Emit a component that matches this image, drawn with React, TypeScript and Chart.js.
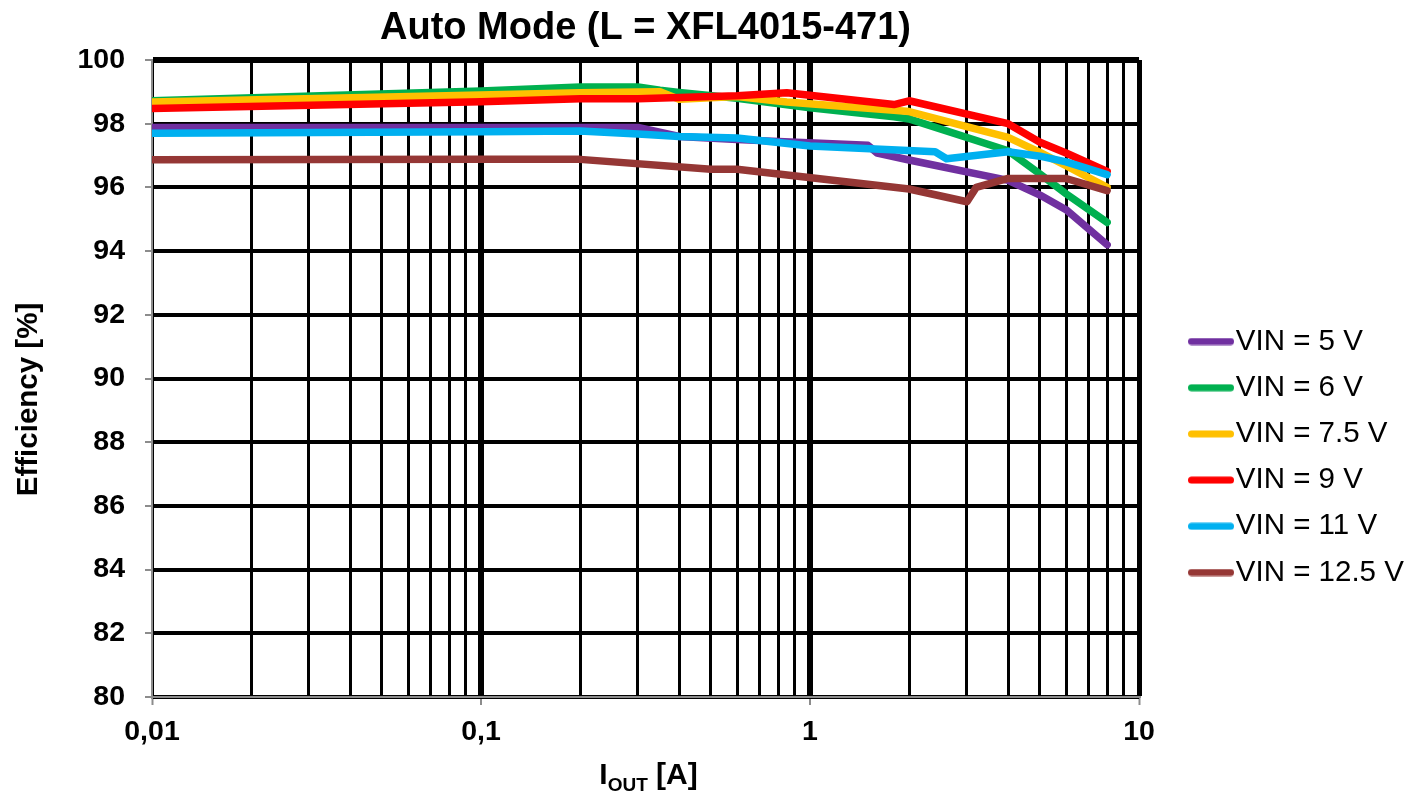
import React, { useEffect, useRef } from 'react';
import { Chart, registerables } from 'chart.js';

Chart.register(...registerables);

const chartTitle = 'Auto Mode (L = XFL4015-471)';
const yAxisTitle = 'Efficiency [%]';
const xAxisTitleMain = 'I';
const xAxisTitleSub = 'OUT';
const xAxisTitleTail = ' [A]';

const seriesLabels = ['VIN = 5 V', 'VIN = 6 V', 'VIN = 7.5 V', 'VIN = 9 V', 'VIN = 11 V', 'VIN = 12.5 V'];
const seriesColors = ['#7030A0', '#00B050', '#FFC000', '#FF0000', '#00B0F0', '#953735'];

const vin5X = [0.01, 0.1, 0.3, 0.4, 0.6, 1.5, 1.6, 2, 4, 5, 6, 8];
const vin5Y = [97.88, 97.88, 97.88, 97.6, 97.5, 97.32, 97.08, 96.86, 96.22, 95.76, 95.3, 94.2];

const vin6X = [0.01, 0.1, 0.2, 0.3, 0.35, 0.4, 0.6, 1, 1.8, 2, 4, 5, 6, 8];
const vin6Y = [98.72, 99.03, 99.15, 99.15, 99.05, 98.98, 98.8, 98.5, 98.22, 98.15, 97.15, 96.42, 95.8, 94.9];

const vin75X = [0.01, 0.1, 0.2, 0.35, 0.4, 0.6, 0.85, 1.8, 2, 4, 5, 6, 8];
const vin75Y = [98.68, 98.9, 98.97, 99.0, 98.77, 98.85, 98.68, 98.42, 98.38, 97.57, 97.1, 96.68, 96.0];

const vin9X = [0.01, 0.1, 0.2, 0.3, 0.6, 0.85, 1.8, 2, 4, 5, 6, 8];
const vin9Y = [98.48, 98.69, 98.78, 98.78, 98.88, 98.97, 98.6, 98.72, 98.0, 97.42, 97.08, 96.5];

const vin11X = [0.01, 0.1, 0.2, 0.3, 0.4, 0.6, 1, 2.4, 2.6, 4, 5, 6, 8];
const vin11Y = [97.7, 97.75, 97.77, 97.68, 97.6, 97.55, 97.3, 97.12, 96.9, 97.12, 96.98, 96.8, 96.4];

const vin125X = [0.01, 0.1, 0.2, 0.5, 0.6, 2, 3, 3.2, 4, 6, 8];
const vin125Y = [96.87, 96.88, 96.88, 96.57, 96.57, 95.95, 95.55, 96.0, 96.28, 96.28, 95.9];

const seriesX = [vin5X, vin6X, vin75X, vin9X, vin11X, vin125X];
const seriesY = [vin5Y, vin6Y, vin75Y, vin9Y, vin11Y, vin125Y];

const xMajorTicks = [0.01, 0.1, 1, 10];
const xMajorLabels = ['0,01', '0,1', '1', '10'];
const xMinorMultipliers = [2, 3, 4, 5, 6, 7, 8, 9];
const yMin = 80;
const yMax = 100;
const yStep = 2;

const FONT = 'Arial, "Liberation Sans", sans-serif';

function majorIndex(v: number): number {
  return xMajorTicks.findIndex((m) => Math.abs(v - m) < m * 1e-6);
}

function buildXTicks(): number[] {
  const out: number[] = [];
  for (let i = 0; i < xMajorTicks.length; i++) {
    out.push(xMajorTicks[i]);
    if (i < xMajorTicks.length - 1) {
      for (const m of xMinorMultipliers) out.push(+(xMajorTicks[i] * m).toPrecision(6));
    }
  }
  return out;
}

function makeLegendMarker(color: string): HTMLCanvasElement {
  const c = document.createElement('canvas');
  c.width = 46;
  c.height = 8;
  const g = c.getContext('2d')!;
  g.strokeStyle = color;
  g.lineWidth = 7;
  g.lineCap = 'round';
  g.beginPath();
  g.moveTo(3.5, 4);
  g.lineTo(42.5, 4);
  g.stroke();
  return c;
}

const axisTitlesPlugin = {
  id: 'axisTitles',
  afterDraw(chart: any) {
    const { ctx, chartArea } = chart;
    ctx.save();
    ctx.fillStyle = '#000';
    // y axis title
    ctx.save();
    ctx.translate(37, (chartArea.top + chartArea.bottom) / 2 + 21);
    ctx.rotate(-Math.PI / 2);
    ctx.font = `bold 29.5px ${FONT}`;
    ctx.textAlign = 'center';
    ctx.textBaseline = 'alphabetic';
    ctx.fillText(yAxisTitle, 0, 0);
    ctx.restore();
    // x axis title with subscript
    const mainFont = `bold 30px ${FONT}`;
    const subFont = `bold 19px ${FONT}`;
    ctx.font = mainFont;
    const wMain = ctx.measureText(xAxisTitleMain).width;
    const wTail = ctx.measureText(xAxisTitleTail).width;
    ctx.font = subFont;
    const wSub = ctx.measureText(xAxisTitleSub).width;
    const total = wMain + wSub + wTail;
    const cx = (chartArea.left + chartArea.right) / 2 + 3;
    const base = chartArea.bottom + 87;
    let x = cx - total / 2;
    ctx.textAlign = 'left';
    ctx.textBaseline = 'alphabetic';
    ctx.font = mainFont;
    ctx.fillText(xAxisTitleMain, x, base);
    x += wMain;
    ctx.font = subFont;
    ctx.fillText(xAxisTitleSub, x, base + 7);
    x += wSub;
    ctx.font = mainFont;
    ctx.fillText(xAxisTitleTail, x, base);
    ctx.restore();
  },
};

export default function App() {
  const canvasRef = useRef<HTMLCanvasElement | null>(null);

  useEffect(() => {
    if (!canvasRef.current) return;
    const datasets = seriesLabels.map((label, i) => ({
      label,
      data: seriesX[i].map((x, j) => ({ x, y: seriesY[i][j] })),
      borderColor: seriesColors[i],
      backgroundColor: seriesColors[i],
      borderWidth: 7.5,
      pointRadius: 0,
      tension: 0,
      borderJoinStyle: 'round' as const,
      borderCapStyle: 'round' as const,
      fill: false,
      order: seriesLabels.length - 1 - i,
    }));

    const markers = seriesColors.map((c) => makeLegendMarker(c));
    const xTicks = buildXTicks();

    const chart = new Chart(canvasRef.current, {
      type: 'line',
      data: { datasets },
      plugins: [axisTitlesPlugin],
      options: {
        animation: false,
        responsive: true,
        maintainAspectRatio: false,
        layout: { padding: { left: 0, top: 0, bottom: 0, right: 9.15 } },
        font: { family: FONT },
        color: '#000',
        plugins: {
          tooltip: { enabled: false },
          title: {
            display: true,
            text: chartTitle,
            fullSize: false,
            color: '#000',
            font: { family: FONT, size: 38, weight: 'bold', lineHeight: 1.2 },
            padding: { top: 5.7, bottom: 8.7 },
          },
          legend: {
            display: true,
            position: 'right',
            align: 'center',
            title: {
              display: true,
              text: '',
              font: { size: 10, lineHeight: 1.2 },
              padding: { top: 109, bottom: 0 },
            },
            labels: {
              color: '#000',
              font: { family: FONT, size: 29.5 },
              usePointStyle: true,
              pointStyleWidth: 20,
              boxHeight: 8,
              padding: 16.7,
              generateLabels: (c: any) =>
                c.data.datasets.map((ds: any, i: number) => ({
                  text: ds.label,
                  fillStyle: ds.borderColor,
                  strokeStyle: ds.borderColor,
                  lineWidth: 0,
                  pointStyle: markers[i],
                  rotation: 0,
                  fontColor: '#000',
                  hidden: !c.isDatasetVisible(i),
                  datasetIndex: i,
                })),
            },
          },
        },
        scales: {
          x: {
            type: 'logarithmic',
            min: xMajorTicks[0],
            max: xMajorTicks[xMajorTicks.length - 1],
            afterBuildTicks: (scale: any) => {
              scale.ticks = xTicks.map((v) => ({ value: v, major: majorIndex(v) >= 0 }));
            },
            afterFit: (scale: any) => {
              scale.height = 96;
            },
            ticks: {
              autoSkip: false,
              maxRotation: 0,
              minRotation: 0,
              padding: 10,
              color: '#000',
              font: { family: FONT, size: 28.5, weight: 'bold' },
              callback: (value: any) => {
                const k = majorIndex(Number(value));
                return k >= 0 ? xMajorLabels[k] : '';
              },
            },
            grid: {
              display: true,
              drawOnChartArea: true,
              drawTicks: true,
              tickLength: 8,
              color: '#000',
              lineWidth: (c: any) => {
                const v = c.tick ? c.tick.value : 0;
                const k = majorIndex(v);
                if (k === 0) return 3;
                if (k === xMajorTicks.length - 1) return 5;
                return k >= 0 ? 6 : 3;
              },
              tickColor: (c: any) => {
                const v = c.tick ? c.tick.value : 0;
                return majorIndex(v) >= 0 ? '#8c8c8c' : 'rgba(0,0,0,0)';
              },
              tickWidth: 2,
            },
            border: { display: true, color: '#8c8c8c', width: 2 },
          },
          y: {
            type: 'linear',
            min: yMin,
            max: yMax,
            afterFit: (scale: any) => {
              scale.width = 152;
            },
            ticks: {
              stepSize: yStep,
              padding: 20,
              color: '#000',
              font: { family: FONT, size: 28.5, weight: 'bold' },
            },
            grid: {
              color: '#000',
              lineWidth: (c: any) => (c.tick && c.tick.value === yMax ? 6 : 4),
              drawTicks: true,
              tickLength: 7,
              tickColor: '#8c8c8c',
              tickWidth: 2,
            },
            border: { display: true, color: '#8c8c8c', width: 2 },
          },
          yPad: {
            type: 'linear',
            position: 'right',
            display: true,
            grid: { display: false, drawTicks: false },
            border: { display: false },
            ticks: { display: false },
            afterFit: (scale: any) => {
              scale.width = 45.3;
            },
          },
        },
      } as any,
    });

    return () => chart.destroy();
  }, []);

  return (
    <div style={{ position: 'fixed', left: 0, top: 0, width: 1423, height: 793, background: '#fff' }}>
      <canvas ref={canvasRef} />
    </div>
  );
}
